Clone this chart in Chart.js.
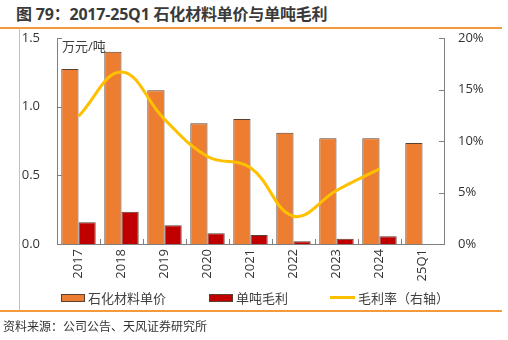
<!DOCTYPE html>
<html>
<head>
<meta charset="utf-8">
<script src="https://cdn.jsdelivr.net/npm/chart.js@4"></script>
<style>
  html, body { margin: 0; padding: 0; background: #fff; }
  body { width: 508px; height: 340px; position: relative; overflow: hidden; font-family: "Open Sans", "Noto Sans CJK SC", sans-serif; color: #333; }
  #chart { position: absolute; left: 0; top: 0; }
  .title { position: absolute; left: 16px; top: 1px; font-size: 16px; font-weight: bold; color: #3a3a3a; white-space: nowrap; letter-spacing: -0.2px; }
  .rule { position: absolute; left: 0; width: 502px; height: 2px; background: #f39a3c; }
  .frame { position: absolute; left: 19px; top: 29px; width: 1px; height: 281px; background: #c0c0c0; }
  .unit { position: absolute; left: 62px; top: 36px; font-size: 13px; color: #404040; }
  .legend { position: absolute; top: 288px; font-size: 13px; color: #404040; display: flex; align-items: center; white-space: nowrap; }
  .legend i { display: inline-block; margin-right: 3px; }
  .source { position: absolute; left: 3px; top: 317px; font-size: 12px; color: #333; white-space: nowrap; }
</style>
</head>
<body>
<div class="title">图 79：2017-25Q1 石化材料单价与单吨毛利</div>
<div class="rule" style="top:27px"></div>
<div class="frame"></div>
<canvas id="chart" width="508" height="340"></canvas>
<div class="unit">万元/吨</div>
<div class="legend" style="left:61px"><i style="width:24px;height:8px;background:#ed7d31;border:1px solid #5a4030;box-sizing:border-box"></i>石化材料单价</div>
<div class="legend" style="left:209px"><i style="width:24px;height:8px;background:#c00000;border:1px solid #5a4030;box-sizing:border-box"></i>单吨毛利</div>
<div class="legend" style="left:330px"><i style="width:25px;height:3px;background:#ffc000"></i>毛利率（右轴）</div>
<div class="rule" style="top:310px"></div>
<div class="source">资料来源：公司公告、天风证券研究所</div>
<script>
const categories = ["2017", "2018", "2019", "2020", "2021", "2022", "2023", "2024", "25Q1"];
const unitPrice = [1.275, 1.40, 1.12, 0.88, 0.91, 0.81, 0.77, 0.77, 0.735];
const unitProfit = [0.158, 0.234, 0.136, 0.078, 0.066, 0.02, 0.039, 0.056, null];
const marginRate = [12.4, 16.7, 12.1, 8.5, 7.4, 2.7, 5.2, 7.3, null];

const axisColor = "#808080";
const tickFont = { family: '"Open Sans", "Noto Sans CJK SC", sans-serif', size: 13 };

// inward tick marks on all three axes, placed from the scales
const innerTicks = {
  id: "innerTicks",
  afterDraw(chart) {
    const { ctx, chartArea: area, scales } = chart;
    ctx.save();
    ctx.strokeStyle = axisColor;
    ctx.lineWidth = 1;
    ctx.beginPath();
    scales.y.ticks.forEach((t) => {
      const y = Math.round(scales.y.getPixelForValue(t.value)) + 0.5;
      ctx.moveTo(area.left, y);
      ctx.lineTo(area.left + 5, y);
    });
    scales.y1.ticks.forEach((t) => {
      const y = Math.round(scales.y1.getPixelForValue(t.value)) + 0.5;
      ctx.moveTo(area.right, y);
      ctx.lineTo(area.right - 5, y);
    });
    for (let i = 0; i < categories.length - 1; i++) {
      const x = Math.round((scales.x.getPixelForValue(i) + scales.x.getPixelForValue(i + 1)) / 2) + 0.5;
      ctx.moveTo(x, area.bottom);
      ctx.lineTo(x, area.bottom - 5);
    }
    ctx.stroke();
    ctx.restore();
  },
};

new Chart(document.getElementById("chart"), {
  data: {
    labels: categories,
    datasets: [
      { type: "line", label: "毛利率（右轴）", data: marginRate, yAxisID: "y1", borderColor: "#ffc000", borderWidth: 3, pointRadius: 0, tension: 0.4, order: 0 },
      { type: "bar", label: "石化材料单价", data: unitPrice, yAxisID: "y", backgroundColor: "#ed7d31", borderColor: "#5a4030", borderWidth: 1, categoryPercentage: 0.8, barPercentage: 1.0, order: 1 },
      { type: "bar", label: "单吨毛利", data: unitProfit, yAxisID: "y", backgroundColor: "#c00000", borderColor: "#5a4030", borderWidth: 1, categoryPercentage: 0.8, barPercentage: 1.0, order: 1 },
    ],
  },
  options: {
    responsive: false,
    animation: false,
    layout: { padding: { left: 0, right: 0, top: 38, bottom: 0 } },
    plugins: { legend: { display: false }, tooltip: { enabled: false } },
    scales: {
      x: {
        grid: { display: false, drawTicks: false },
        border: { display: true, color: axisColor },
        ticks: { maxRotation: 90, minRotation: 90, padding: 5, color: "#333", font: tickFont },
        afterFit(scale) { scale.height = 96; },
      },
      y: {
        position: "left",
        min: 0,
        max: 1.5,
        grid: { display: false, drawTicks: false },
        border: { display: true, color: axisColor },
        ticks: { stepSize: 0.5, padding: 17, color: "#333", font: tickFont, callback: (v) => v.toFixed(1) },
        afterFit(scale) { scale.width = 57; },
      },
      y1: {
        position: "right",
        min: 0,
        max: 20,
        grid: { display: false, drawTicks: false },
        border: { display: true, color: axisColor },
        ticks: { stepSize: 5, padding: 14, color: "#333", font: tickFont, callback: (v) => v + "%" },
        afterFit(scale) { scale.width = 64; },
      },
    },
  },
  plugins: [innerTicks],
});
</script>
</body>
</html>
